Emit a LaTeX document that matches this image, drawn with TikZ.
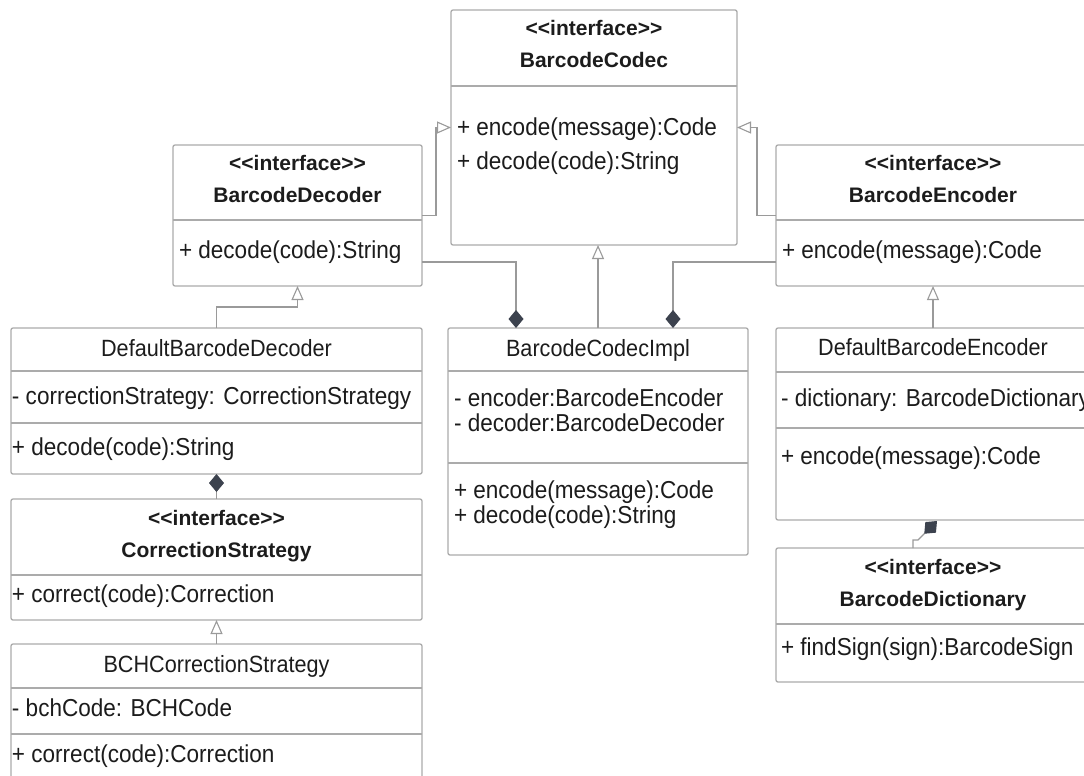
\documentclass[tikz,border=0pt]{standalone}
\usepackage{fontspec}
\usepackage{tikz}
\usetikzlibrary{arrows.meta,positioning,calc}
\newfontfamily\umlfont{Liberation Sans}
\newfontfamily\mbrfont{Liberation Sans}[FakeStretch=0.92]
\definecolor{umlbox}{HTML}{ABABAB}
\definecolor{umlline}{HTML}{9A9A9A}
\definecolor{umldark}{HTML}{3C424E}
\definecolor{umltext}{HTML}{1C1C1C}

\begin{document}
\begin{tikzpicture}[
  x=1pt, y=-1pt,
  every node/.style={text=umltext, inner sep=0pt, outer sep=0pt},
  cls/.style={draw=umlbox, rounded corners=2pt, line width=1.3pt, fill=white},
  divider/.style={draw=umlbox, line width=1.2pt},
  hdr/.style={font=\umlfont\bfseries\fontsize{21}{25}\selectfont, anchor=base},
  cname/.style={font=\mbrfont\fontsize{23.5}{27}\selectfont, anchor=base},
  mbr/.style={font=\mbrfont\fontsize{24.5}{28}\selectfont, anchor=base west},
  gen/.style={draw=umlline, line width=1.1pt, -{Triangle[open, length=14pt, width=12pt, line width=1.1pt]}},
  comp/.style={draw=umlline, line width=1.1pt, -{Diamond[length=18pt, width=15pt, color=umldark]}}
]
\useasboundingbox (0,0) rectangle (1084,776);
\clip (0,0) rectangle (1084,776);

%% BarcodeCodec
\node[cls, minimum width=286, minimum height=235] (codec) at (594,127.5) {};
\draw[divider] (codec.west |- 0,86) -- (codec.east |- 0,86);
\node[hdr] (codech) at (594,36) {<<interface>>};
\node[hdr] (codecn) at (594,67) {BarcodeCodec};
\node[mbr] (codecm1) at (457,135) {+ encode(message):Code};
\node[mbr] (codecm2) at (457,169) {+ decode(code):String};

%% BarcodeDecoder
\node[cls, minimum width=249, minimum height=141] (decoder) at (297.5,215.5) {};
\draw[divider] (decoder.west |- 0,220) -- (decoder.east |- 0,220);
\node[hdr] (decoderh) at (297.5,170) {<<interface>>};
\node[hdr] (decodern) at (297.5,202) {BarcodeDecoder};
\node[mbr] (decoderm) at (179,258) {+ decode(code):String};

%% BarcodeEncoder
\node[cls, minimum width=314, minimum height=141] (encoder) at (933,215.5) {};
\draw[divider] (encoder.west |- 0,220) -- (encoder.east |- 0,220);
\node[hdr] (encoderh) at (933,170) {<<interface>>};
\node[hdr] (encodern) at (933,202) {BarcodeEncoder};
\node[mbr] (encoderm) at (782,258) {+ encode(message):Code};

%% BarcodeCodecImpl
\node[cls, minimum width=300, minimum height=227] (impl) at (598,441.5) {};
\draw[divider] (impl.west |- 0,371) -- (impl.east |- 0,371);
\draw[divider] (impl.west |- 0,463) -- (impl.east |- 0,463);
\node[cname] (impln) at (598,356) {BarcodeCodecImpl};
\node[mbr] (impla1) at (454,406) {- encoder:BarcodeEncoder};
\node[mbr] (impla2) at (454,431) {- decoder:BarcodeDecoder};
\node[mbr] (implo1) at (454,498) {+ encode(message):Code};
\node[mbr] (implo2) at (454,523) {+ decode(code):String};

%% DefaultBarcodeDecoder
\node[cls, minimum width=411, minimum height=146] (defdec) at (216.5,401) {};
\draw[divider] (defdec.west |- 0,371) -- (defdec.east |- 0,371);
\draw[divider] (defdec.west |- 0,423) -- (defdec.east |- 0,423);
\node[cname] (defdecn) at (216.5,356) {DefaultBarcodeDecoder};
\node[mbr] (defdeca) at (12,404) {- correctionStrategy: CorrectionStrategy};
\node[mbr] (defdeco) at (12,455) {+ decode(code):String};

%% CorrectionStrategy
\node[cls, minimum width=411, minimum height=121] (corr) at (216.5,559.5) {};
\draw[divider] (corr.west |- 0,575) -- (corr.east |- 0,575);
\node[hdr] (corrh) at (216.5,525) {<<interface>>};
\node[hdr] (corrn) at (216.5,557) {CorrectionStrategy};
\node[mbr] (corrm) at (12,602) {+ correct(code):Correction};

%% BCHCorrectionStrategy
\node[cls, minimum width=411, minimum height=156] (bch) at (216.5,722) {};
\draw[divider] (bch.west |- 0,688) -- (bch.east |- 0,688);
\draw[divider] (bch.west |- 0,734) -- (bch.east |- 0,734);
\node[cname] (bchn) at (216.5,672) {BCHCorrectionStrategy};
\node[mbr] (bcha) at (12,716) {- bchCode: BCHCode};
\node[mbr] (bcho) at (12,762) {+ correct(code):Correction};

%% DefaultBarcodeEncoder
\node[cls, minimum width=314, minimum height=192] (defenc) at (933,424) {};
\draw[divider] (defenc.west |- 0,372) -- (defenc.east |- 0,372);
\draw[divider] (defenc.west |- 0,428) -- (defenc.east |- 0,428);
\node[cname] (defencn) at (933,355) {DefaultBarcodeEncoder};
\node[mbr] (defenca) at (781,406) {- dictionary: BarcodeDictionary};
\node[mbr] (defenco) at (781,464) {+ encode(message):Code};

%% BarcodeDictionary
\node[cls, minimum width=314, minimum height=134] (dict) at (933,615) {};
\draw[divider] (dict.west |- 0,624) -- (dict.east |- 0,624);
\node[hdr] (dicth) at (933,574) {<<interface>>};
\node[hdr] (dictn) at (933,606) {BarcodeDictionary};
\node[mbr] (dictm) at (781,655) {+ findSign(sign):BarcodeSign};

%% Generalizations
\draw[gen] (decoder.east) -- ++(14,0) |- (codec.west);
\draw[gen] (encoder.west) -- ++(-19,0) |- (codec.east);
\draw[gen] (impl.north) -- (impl.north |- codec.south);
\draw[gen] (defdec.north) -- ++(0,-21) -| (decoder.south);
\draw[gen] (bch.north) -- (corr.south);
\draw[gen] (defenc.north) -- (encoder.south);

%% Compositions
\draw[comp] ([yshift=24pt]decoder.south east) -| ([xshift=-82pt]impl.north);
\draw[comp] ([yshift=24pt]encoder.south west) -| ([xshift=75pt]impl.north);
\draw[comp] (corr.north) -- (defdec.south);
\coordinate (dictend) at ([xshift=4pt,yshift=-1pt]defenc.south);
\draw[comp] ([xshift=-20pt]dict.north) -- ++(0,-8) -- ++(5,0) -- (dictend);

\end{tikzpicture}
\end{document}
